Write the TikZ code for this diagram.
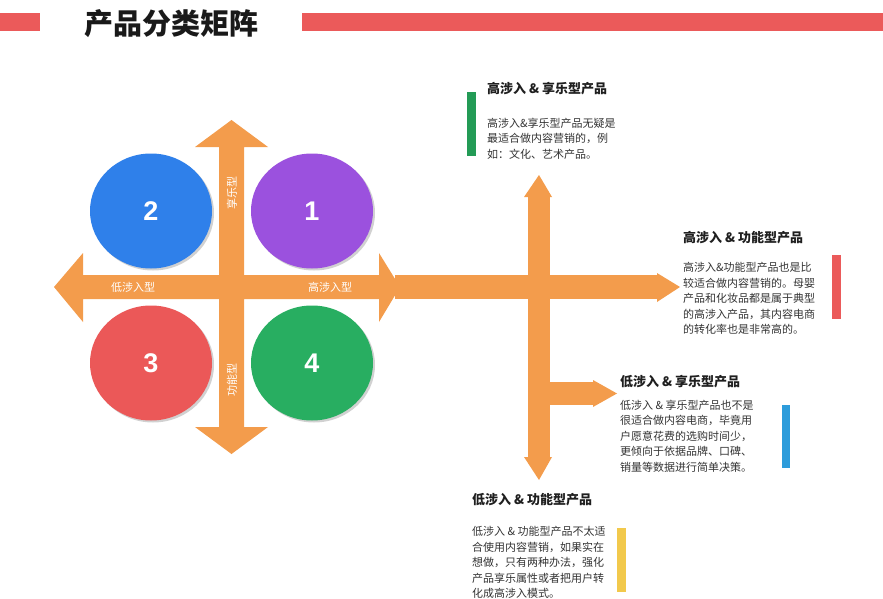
\documentclass[tikz,border=0pt]{standalone}
\usepackage{fontspec}
\setmainfont{Liberation Sans}
\newfontfamily\cjk{Noto Sans CJK SC}
\usetikzlibrary{shapes,shadows,positioning}

\definecolor{bandorange}{HTML}{F39C4C}
\definecolor{qpurple}{HTML}{9B51DE}
\definecolor{qblue}{HTML}{2F80EA}
\definecolor{qred}{HTML}{EB5858}
\definecolor{qgreen}{HTML}{28AE61}
\definecolor{barred}{HTML}{EB5A5A}
\definecolor{bargreen}{HTML}{239B56}
\definecolor{barblue}{HTML}{2D9CDB}
\definecolor{baryellow}{HTML}{F2C94C}

\begin{document}
\begin{tikzpicture}[
    x=1pt, y=-1pt,
    quad/.style={ellipse, minimum width=122pt, minimum height=115pt, inner sep=0pt, drop shadow={shadow xshift=2pt, shadow yshift=-2pt, fill=black!30, opacity=0.6}, text=white, font=\fontsize{27}{27}\selectfont\bfseries},
    band/.style={fill=bandorange},
    axislbl/.style={inner sep=0pt, text=white, font=\cjk\fontsize{11}{11}\selectfont},
    head/.style={anchor=west, inner sep=0pt, text=black!88, font=\cjk\bfseries\fontsize{13}{13}\selectfont},
    body/.style={anchor=north west, inner sep=0pt, align=left, text=black!80, font=\cjk\fontsize{11}{15.5}\selectfont}
]
    \useasboundingbox (0,0) rectangle (883,599);
    % title
    \fill[barred] (0,13) rectangle (40,31);
    \fill[barred] (302,13) rectangle (883,31);
    \node[anchor=west, inner sep=0pt, text=black!90, font=\cjk\bfseries\fontsize{29}{29}\selectfont] (title) at (84,24) {产品分类矩阵};
    % matrix cross
    \fill[band] (54,287) -- (83,253) -- (83,275) -- (219,275) -- (219,147) -- (195,147) -- (231.5,120) -- (268,147) -- (244,147) -- (244,275) -- (379,275) -- (379,253) -- (400,287) -- (379,322) -- (379,299) -- (244,299) -- (244,427) -- (268,427) -- (231.5,454) -- (195,427) -- (219,427) -- (219,299) -- (83,299) -- (83,322) -- cycle;
    % branches to the right
    \fill[band] (395,275) rectangle (657,299);
    \fill[band] (657,273) -- (680,287) -- (657,302) -- cycle;
    \fill[band] (528,197) rectangle (550,457);
    \fill[band] (524,197) -- (539,175) -- (552,197) -- cycle;
    \fill[band] (524,457) -- (539,480) -- (552,457) -- cycle;
    \fill[band] (549,382) rectangle (593,405);
    \fill[band] (593,380) -- (617,393.5) -- (593,407) -- cycle;
    % quadrants
    \node[quad, fill=qpurple] (q1) at (312,211) {1};
    \node[quad, fill=qblue] (q2) at (151,211) {2};
    \node[quad, fill=qred] (q3) at (151,363) {3};
    \node[quad, fill=qgreen] (q4) at (312,363) {4};
    \node[axislbl, rotate=90] (lblhed) at (232,193) {享乐型};
    \node[axislbl, rotate=90] (lblfun) at (232,380) {功能型};
    \node[axislbl] (lbllow) at (133,287) {低涉入型};
    \node[axislbl] (lblhigh) at (330,287) {高涉入型};
    % notes
    \fill[bargreen] (467,92) rectangle (476,156);
    \node[head] (hd1) at (487,89) {高涉入 \& 享乐型产品};
    \node[body] (tx1) at (487,117.5) {高涉入\&享乐型产品无疑是\\最适合做内容营销的，例\\如：文化、艺术产品。};
    \fill[barred] (832,255) rectangle (841,319);
    \node[head] (hd2) at (683,238) {高涉入 \& 功能型产品};
    \node[body] (tx2) at (683,262.5) {高涉入\&功能型产品也是比\\较适合做内容营销的。母婴\\产品和化妆品都是属于典型\\的高涉入产品，其内容电商\\的转化率也是非常高的。};
    \fill[barblue] (782,405) rectangle (790,468);
    \node[head] (hd3) at (620,382) {低涉入 \& 享乐型产品};
    \node[body] (tx3) at (620,399.5) {低涉入 \& 享乐型产品也不是\\很适合做内容电商，毕竟用\\户愿意花费的选购时间少，\\更倾向于依据品牌、口碑、\\销量等数据进行简单决策。};
    \fill[baryellow] (617,528) rectangle (626,592);
    \node[head] (hd4) at (472,500) {低涉入 \& 功能型产品};
    \node[body] (tx4) at (472,526.5) {低涉入 \& 功能型产品不太适\\合使用内容营销，如果实在\\想做，只有两种办法，强化\\产品享乐属性或者把用户转\\化成高涉入模式。};
\end{tikzpicture}
\end{document}
